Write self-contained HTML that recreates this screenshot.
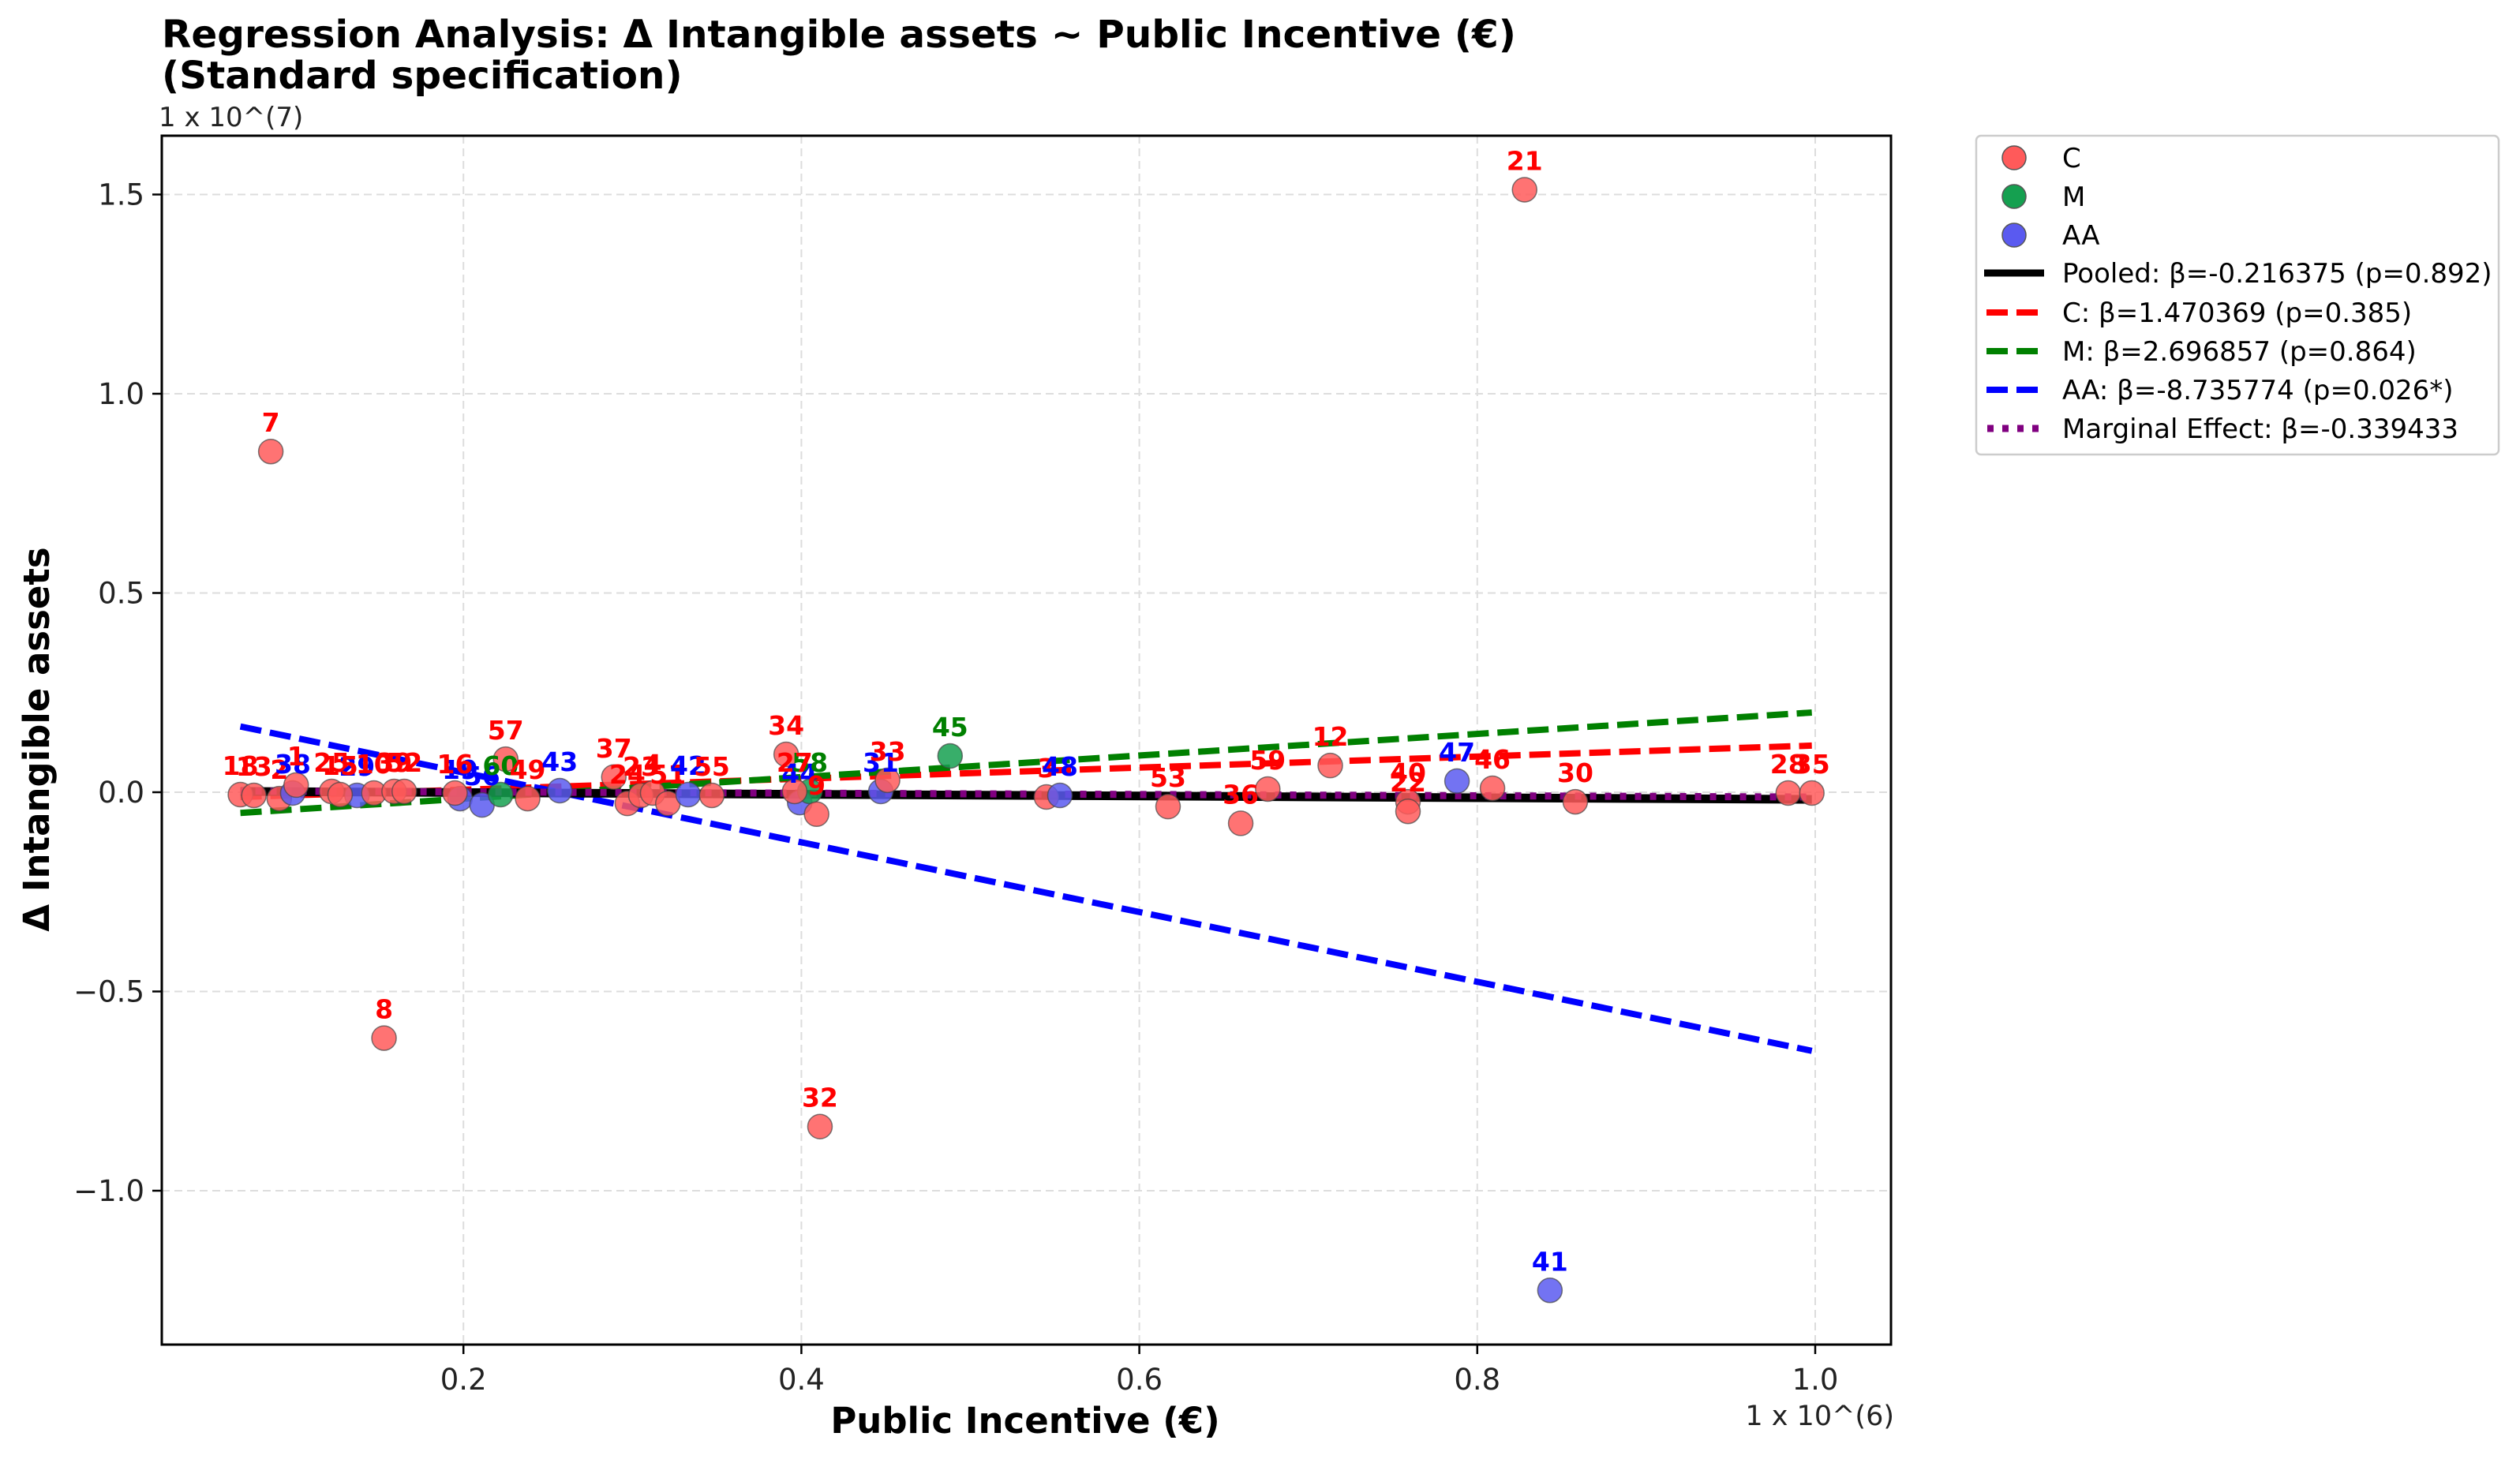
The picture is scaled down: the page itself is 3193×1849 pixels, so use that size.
<!DOCTYPE html>
<html><head><meta charset="utf-8">
<style>
html,body{margin:0;padding:0;background:#fff;}
svg{display:block;font-family:"DejaVu Sans","Liberation Sans",sans-serif;}
</style></head>
<body>
<svg id="chart" width="3193" height="1849" viewBox="0 0 3193 1849" xmlns="http://www.w3.org/2000/svg">
<rect x="0" y="0" width="3193" height="1849" fill="#fff"/>
<text x="205" y="60" font-size="48.5" font-weight="bold" fill="#000">Regression Analysis: Δ Intangible assets ~ Public Incentive (€)</text>
<text x="205" y="112" font-size="48.5" font-weight="bold" fill="#000">(Standard specification)</text>
<text x="201" y="160" font-size="34" fill="#222">1 x 10^(7)</text>
<text x="2400" y="1806" font-size="35" fill="#222" text-anchor="end">1 x 10^(6)</text>
<g id="grid"></g>
<g id="lines"></g>
<g id="points"></g>
<g id="labels"></g>
<rect x="205" y="172" width="2191" height="1532" fill="none" stroke="#000" stroke-width="3"/>
<g id="ticks"></g>
<text x="1299" y="1816" font-size="45" font-weight="bold" text-anchor="middle">Public Incentive (€)</text>
<text transform="translate(62,937) rotate(-90)" font-size="45" font-weight="bold" text-anchor="middle">Δ Intangible assets</text>
<g>
<rect x="2504" y="172" width="662" height="404" rx="6" fill="#fff" stroke="#ccc" stroke-width="2.5"/>
<circle cx="2552" cy="200" r="15" fill="#ff5a5a" stroke="#555" stroke-width="1.5"/>
<text x="2613" y="212" font-size="34">C</text>
<circle cx="2552" cy="249" r="15" fill="#15a050" stroke="#555" stroke-width="1.5"/>
<text x="2613" y="261" font-size="34">M</text>
<circle cx="2552" cy="298" r="15" fill="#5a5af0" stroke="#555" stroke-width="1.5"/>
<text x="2613" y="310" font-size="34">AA</text>
<line x1="2514" y1="346" x2="2590" y2="346" stroke="#000" stroke-width="9"/>
<text x="2613" y="358" font-size="34">Pooled: β=-0.216375 (p=0.892)</text>
<line x1="2517" y1="396" x2="2590" y2="396" stroke="#ff0000" stroke-width="8" stroke-dasharray="27,11"/>
<text x="2613" y="408" font-size="34">C: β=1.470369 (p=0.385)</text>
<line x1="2517" y1="445" x2="2590" y2="445" stroke="#008000" stroke-width="8" stroke-dasharray="27,11"/>
<text x="2613" y="457" font-size="34">M: β=2.696857 (p=0.864)</text>
<line x1="2517" y1="494" x2="2590" y2="494" stroke="#0000ff" stroke-width="8" stroke-dasharray="27,11"/>
<text x="2613" y="506" font-size="34">AA: β=-8.735774 (p=0.026*)</text>
<line x1="2518" y1="543" x2="2590" y2="543" stroke="#800080" stroke-width="9" stroke-dasharray="8,11"/>
<text x="2613" y="555" font-size="34">Marginal Effect: β=-0.339433</text>
</g>
</svg>
<script>
const xTicks = [0.2, 0.4, 0.6, 0.8, 1.0];
const xTickLabels = ["0.2", "0.4", "0.6", "0.8", "1.0"];
const yTicks = [1.5, 1.0, 0.5, 0.0, -0.5, -1.0];
const yTickLabels = ["1.5", "1.0", "0.5", "0.0", "\u22120.5", "\u22121.0"];
const pointIds = ["21","7","8","32","41","45","34","57","12","47","46","59","30","53","36","40","22","28","35","3","48","31","33","44","58","27","9","18","13","2","38","1","25","29","15","10","39","52","19","56","16","60","49","43","37","24","23","4","51","42","55"];
const pointGroups = ["C","C","C","C","AA","M","C","C","C","AA","C","C","C","C","C","C","C","C","C","C","AA","AA","C","AA","M","C","C","C","C","C","AA","C","C","AA","C","C","C","C","AA","AA","C","M","C","AA","C","C","C","C","C","AA","C"];
const pointX = [0.828,0.086,0.153,0.411,0.843,0.488,0.391,0.225,0.713,0.788,0.809,0.676,0.858,0.617,0.660,0.759,0.759,0.984,0.998,0.545,0.553,0.447,0.451,0.399,0.405,0.396,0.409,0.068,0.076,0.091,0.099,0.101,0.122,0.137,0.127,0.147,0.159,0.165,0.198,0.211,0.195,0.222,0.238,0.257,0.289,0.297,0.305,0.312,0.321,0.333,0.347];
const pointY = [1.512,0.855,-0.617,-0.839,-1.250,0.091,0.095,0.083,0.067,0.028,0.010,0.008,-0.024,-0.036,-0.078,-0.024,-0.048,-0.002,-0.002,-0.012,-0.008,0.002,0.030,-0.026,0.002,0.002,-0.055,-0.006,-0.008,-0.016,-0.002,0.018,0.002,-0.008,-0.006,-0.002,0.002,0.002,-0.016,-0.032,-0.002,-0.006,-0.016,0.004,0.038,-0.028,-0.008,-0.002,-0.028,-0.006,-0.008];
const lineX = [0.068, 0.998];
const pooledY = [0.002, -0.018];
const cFitY = [-0.012, 0.117];
const mFitY = [-0.052, 0.200];
const aaFitY = [0.165, -0.649];
const marginalY = [0.003, -0.012];

const NS = "http://www.w3.org/2000/svg";
function sx(v){ return 159 + v * 2141; }
function sy(v){ return 1004 - v * 505; }
function mk(tag, attrs, parent){
  const e = document.createElementNS(NS, tag);
  for (const k in attrs) e.setAttribute(k, attrs[k]);
  parent.appendChild(e);
  return e;
}
const grid = document.getElementById('grid');
const ticks = document.getElementById('ticks');
xTicks.forEach((t, i) => {
  const g = mk('line', {x1: sx(t), x2: sx(t), y1: 172, y2: 1704, stroke: '#ddd', 'stroke-width': 2, 'stroke-dasharray': '10,6'}, grid);
  
  
  const tk = mk('line', {x1: sx(t), x2: sx(t), y1: 1704, y2: 1716, stroke: '#000', 'stroke-width': 2.5}, ticks);
  
  
  const tl = mk('text', {x: sx(t), y: 1761, 'font-size': 37, 'text-anchor': 'middle', fill: '#222'}, ticks);
  tl.textContent = xTickLabels[i];
  
  
});
yTicks.forEach((t, i) => {
  const g = mk('line', {x1: 205, x2: 2396, y1: sy(t), y2: sy(t), stroke: '#ddd', 'stroke-width': 2, 'stroke-dasharray': '10,6'}, grid);
  
  
  const tk = mk('line', {x1: 193, x2: 205, y1: sy(t), y2: sy(t), stroke: '#000', 'stroke-width': 2.5}, ticks);
  
  
  const tl = mk('text', {x: 183, y: sy(t) + 13, 'font-size': 37, 'text-anchor': 'end', fill: '#222'}, ticks);
  tl.textContent = yTickLabels[i];
  
  
});

const fill = {C: '#ff5a5a', M: '#15a050', AA: '#5a5af0'};
const txt = {C: '#ff0000', M: '#008000', AA: '#0000ff'};
const pts = document.getElementById('points');
const labs = document.getElementById('labels');
pointX.forEach((x, i) => {
  const g = pointGroups[i];
  const c = mk('circle', {cx: sx(x), cy: sy(pointY[i]), r: 15.5, fill: fill[g], 'fill-opacity': 0.85, stroke: '#444', 'stroke-opacity': 0.7, 'stroke-width': 1.5}, pts);
  
  
});

const lines = document.getElementById('lines');
function fit(ys, color, w, dash, name){
  const l = mk('line', {x1: sx(lineX[0]), y1: sy(ys[0]), x2: sx(lineX[1]), y2: sy(ys[1]), stroke: color, 'stroke-width': w}, lines);
  if (dash) l.setAttribute('stroke-dasharray', dash);
  
  
}
fit(cFitY, '#ff0000', 8, '27,11', 'c-fit-line');
fit(mFitY, '#008000', 8, '27,11', 'm-fit-line');
fit(aaFitY, '#0000ff', 8, '27,11', 'aa-fit-line');
fit(pooledY, '#000000', 11, null, 'pooled-fit-line');
fit(marginalY, '#800080', 9, '8,11', 'marginal-effect-line');

pointX.forEach((x, i) => {
  const g = pointGroups[i];
  const t = mk('text', {x: sx(x), y: sy(pointY[i]) - 25, 'font-size': 33, 'font-weight': 'bold', 'text-anchor': 'middle', fill: txt[g]}, labs);
  t.textContent = pointIds[i];
  
  
});
</script>
</body></html>
